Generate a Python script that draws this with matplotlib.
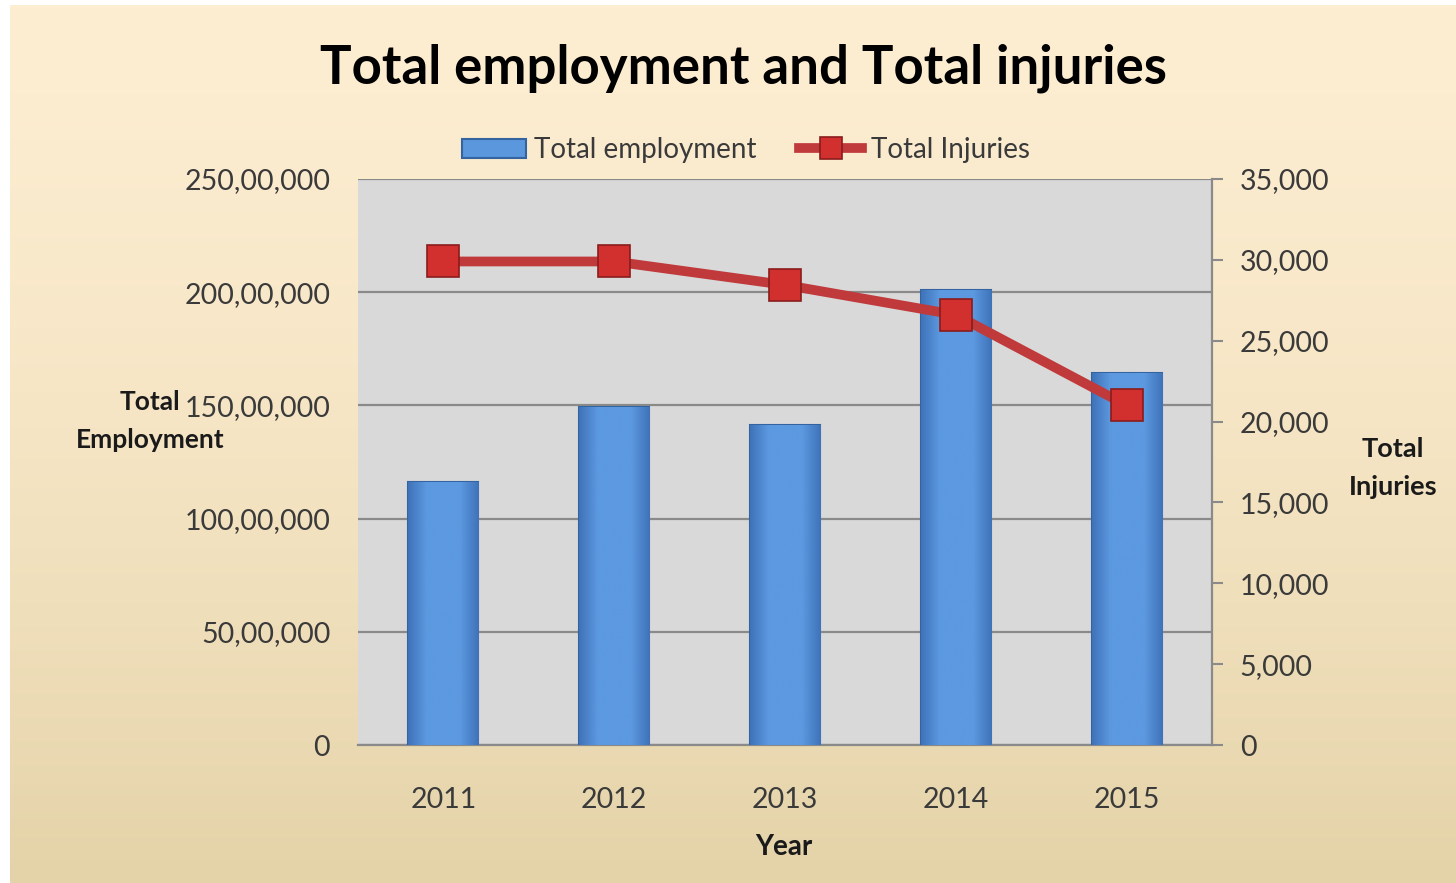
import numpy as np
import matplotlib.pyplot as plt
from matplotlib.ticker import FuncFormatter, MultipleLocator

plt.rcParams['font.family'] = ['Lato', 'DejaVu Sans']

years = ['2011', '2012', '2013', '2014', '2015']
employment = [11600000, 14950000, 14130000, 20100000, 16430000]
injuries = [29900, 29900, 28450, 26600, 21000]


def indian_fmt(v, pos):
    v = int(round(v))
    if v == 0:
        return '0'
    return f"{v // 100000},{(v // 1000) % 100:02d},{v % 1000:03d}"


fig = plt.figure(figsize=(14.56, 8.83), dpi=100)
fig.patch.set_facecolor('white')

# gradient background panel
bg = fig.add_axes([10 / 1456, 0, 1446 / 1456, 878 / 883], zorder=-5)
grad = np.linspace(0, 1, 256).reshape(-1, 1)
top = np.array([253, 237, 209]) / 255
bot = np.array([228, 211, 168]) / 255
w = grad ** 1.6
img = top * (1 - w[..., None]) + bot * w[..., None]
bg.imshow(img, aspect='auto', extent=[0, 1, 0, 1])
bg.axis('off')

ax = fig.add_axes([358 / 1456, (883 - 745) / 883, (1212 - 358) / 1456, (745 - 179) / 883])
ax.set_facecolor('#d9d9d9')
x = np.arange(len(years))

bars = ax.bar(x, employment, width=0.41, color='#5b97dd', edgecolor='#34649f', linewidth=1.5,
              zorder=3, label='Total employment')
# horizontal shading inside bars: darker at sides, lighter in the middle
t = np.linspace(-1, 1, 200)
shade = np.clip(np.abs(t) * 1.6 - 0.75, 0, 1).reshape(1, -1)
c_mid = np.array([92, 153, 224]) / 255
c_edge = np.array([58, 108, 178]) / 255
bar_img = c_mid * (1 - shade[..., None]) + c_edge * shade[..., None]
for b in bars:
    x0, w0, h0 = b.get_x(), b.get_width(), b.get_height()
    im = ax.imshow(bar_img, aspect='auto', extent=[x0, x0 + w0, 0, h0], zorder=3.2)
    im.set_clip_path(b)
ax.set_xlim(-0.5, 4.5)
ax.set_ylim(0, 25000000)
ax.yaxis.set_major_locator(MultipleLocator(5000000))
ax.yaxis.set_major_formatter(FuncFormatter(indian_fmt))
ax.grid(axis='y', color='#8a8a8a', linewidth=1.6, zorder=1)
ax.set_axisbelow(True)
ax.set_xticks(x)
ax.set_xticklabels(years)
ax.tick_params(axis='both', length=0, labelsize=20.5, labelcolor='#3a3a3a')
ax.tick_params(axis='y', pad=20)
ax.tick_params(axis='x', pad=30)
for s in ['top', 'right', 'left']:
    ax.spines[s].set_visible(False)
ax.spines['bottom'].set_color('#8a8a8a')
ax.spines['bottom'].set_linewidth(1.6)

ax2 = ax.twinx()
ax2.plot(x, injuries, color='#c0393b', linewidth=7, marker='s', markersize=23,
         markerfacecolor='#d1302f', markeredgecolor='#8a1c1c', markeredgewidth=1.2,
         zorder=5, label='Total Injuries')
ax2.set_ylim(0, 35000)
ax2.yaxis.set_major_locator(MultipleLocator(5000))
ax2.yaxis.set_major_formatter(FuncFormatter(lambda v, p: f"{int(v):,}"))
ax2.tick_params(axis='y', length=8, width=1.5, color='#8a8a8a', direction='out',
                labelsize=20.5, labelcolor='#3a3a3a', pad=12)
for s in ['top', 'left', 'bottom']:
    ax2.spines[s].set_visible(False)
ax2.spines['right'].set_color('#8a8a8a')
ax2.spines['right'].set_linewidth(1.6)

fig.text(744 / 1456, 1 - 68 / 883, 'Total employment and Total injuries', ha='center', va='center',
         fontsize=38, fontweight='bold', color='black')
# axis titles, one text per line
fig.text(150 / 1456, 1 - 402 / 883, 'Total', ha='center', va='center',
         fontsize=19, fontweight='bold', color='#1a1a1a')
fig.text(150 / 1456, 1 - 440 / 883, 'Employment', ha='center', va='center',
         fontsize=19, fontweight='bold', color='#1a1a1a')
fig.text(1393 / 1456, 1 - 449 / 883, 'Total', ha='center', va='center',
         fontsize=19.5, fontweight='bold', color='#1a1a1a')
fig.text(1393 / 1456, 1 - 487 / 883, 'Injuries', ha='center', va='center',
         fontsize=19.5, fontweight='bold', color='#1a1a1a')
fig.text(784 / 1456, 1 - 847 / 883, 'Year', ha='center', va='center',
         fontsize=20, fontweight='bold', color='#1a1a1a')

h1, l1 = ax.get_legend_handles_labels()
h2, l2 = ax2.get_legend_handles_labels()
leg = fig.legend(h1 + h2, l1 + l2, loc='center', bbox_to_anchor=(746 / 1456, 1 - 150 / 883),
                 ncol=2, frameon=False, fontsize=20, handlelength=2.3, columnspacing=1.5,
                 handletextpad=0.3, markerscale=0.7, labelcolor='#3a3a3a')

fig.savefig('out.png', dpi=100)
